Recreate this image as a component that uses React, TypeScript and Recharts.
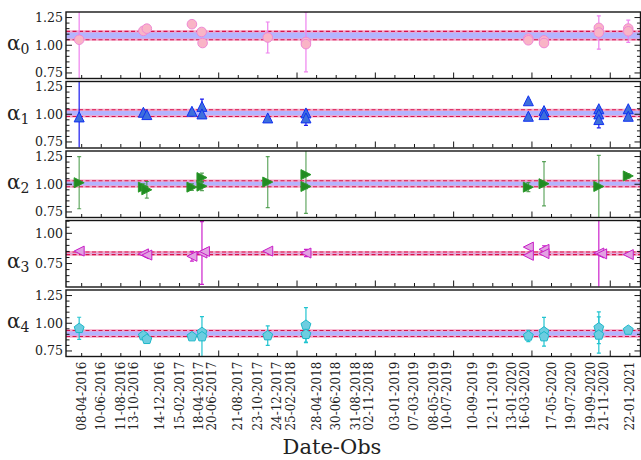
import React from "react";
import {
  ScatterChart,
  Scatter,
  XAxis,
  YAxis,
  ErrorBar,
  ReferenceArea,
  ReferenceLine,
} from "recharts";

// date tick labels, one every 62.5 days from 08-04-2016
const dateLabels = [
  "08-04-2016", "10-06-2016", "11-08-2016", "13-10-2016", "14-12-2016",
  "15-02-2017", "18-04-2017", "20-06-2017", "21-08-2017", "23-10-2017",
  "24-12-2017", "25-02-2018", "28-04-2018", "30-06-2018", "31-08-2018",
  "02-11-2018", "03-01-2019", "07-03-2019", "08-05-2019", "10-07-2019",
  "10-09-2019", "12-11-2019", "13-01-2020", "16-03-2020", "17-05-2020",
  "19-07-2020", "19-09-2020", "21-11-2020", "22-01-2021",
];
const dateTicks = dateLabels.map((_, k) => k * 62.5);

// observations: days after 08-04-2016, value, error
const a0Days = [-8, 197, 208, 352, 383, 386, 594, 716, 716, 1426, 1426, 1476, 1476, 1651, 1651, 1745, 1745];
const a0Vals = [1.05, 1.13, 1.15, 1.19, 1.12, 1.02, 1.07, 1.03, 1.01, 1.06, 1.045, 1.044, 1.02, 1.157, 1.115, 1.151, 1.126];
const a0Errs = [0.4, 0.01, 0.01, 0.01, 0.01, 0.01, 0.14, 0.27, 0.02, 0.01, 0.01, 0.01, 0.01, 0.02, 0.15, 0.02, 0.1];

const a1Days = [-8, 197, 208, 352, 384, 384, 594, 716, 716, 1426, 1426, 1476, 1476, 1651, 1651, 1651, 1745, 1745];
const a1Vals = [0.976, 1.018, 0.997, 1.027, 1.071, 1.003, 0.967, 1.012, 0.967, 1.122, 0.982, 1.033, 0.997, 1.05, 1.003, 0.952, 1.05, 0.982];
const a1Errs = [0.4, 0.01, 0.01, 0.01, 0.066, 0.01, 0.01, 0.01, 0.068, 0.01, 0.01, 0.015, 0.01, 0.01, 0.01, 0.074, 0.01, 0.01];

const a2Days = [-8, 197, 208, 352, 384, 384, 594, 716, 716, 1426, 1476, 1651, 1745];
const a2Vals = [1.014, 0.974, 0.95, 0.974, 1.06, 0.983, 1.02, 1.087, 0.98, 0.974, 1.005, 0.98, 1.075];
const a2Errs = [0.235, 0.03, 0.075, 0.03, 0.04, 0.04, 0.23, 0.35, 0.02, 0.04, 0.2, 0.28, 0.02];

const a3Days = [-8, 197, 208, 352, 384, 392, 594, 716, 1426, 1426, 1476, 1476, 1651, 1660, 1745];
const a3Vals = [0.853, 0.83, 0.82, 0.81, 0.837, 0.85, 0.853, 0.837, 0.886, 0.818, 0.867, 0.832, 0.837, 0.83, 0.824];
const a3Errs = [0.01, 0.01, 0.02, 0.04, 0.26, 0.01, 0.01, 0.03, 0.01, 0.01, 0.03, 0.01, 0.35, 0.02, 0.01];

const a4Days = [-8, 197, 208, 352, 384, 384, 594, 716, 716, 1426, 1476, 1476, 1651, 1651, 1745];
const a4Vals = [0.954, 0.888, 0.855, 0.879, 0.918, 0.879, 0.888, 0.983, 0.9, 0.885, 0.923, 0.879, 0.959, 0.894, 0.938];
const a4Errs = [0.1, 0.01, 0.02, 0.01, 0.01, 0.18, 0.088, 0.158, 0.07, 0.05, 0.13, 0.01, 0.143, 0.164, 0.01];

// weighted-mean band of each coefficient
const bandLow = [1.05, 0.98, 0.978, 0.824, 0.88];
const bandHigh = [1.125, 1.04, 1.032, 0.845, 0.935];

const toRows = (days: number[], vals: number[], errs: number[]) =>
  days.map((x, i) => ({ x, y: vals[i], err: errs[i] }));

const W = 641;
const PLOT_L = 66;
const PLOT_R = 640.5;
const PANEL_H = 66.5;
const STEP = 69.5;
const TOP0 = 12;
const PAD = 6; // room so the edge tick labels are not clipped
const X_DOMAIN: [number, number] = [-50, 1784];
const FONT = "DejaVu Serif";
const INK = "#151515";
const THIN = 0.01; // axes that only carry inward ticks

const range = (lo: number, hi: number) => {
  const out: number[] = [];
  for (let v = Math.round(lo * 100); v <= Math.round(hi * 100); v += 5) out.push(v / 100);
  return out;
};

const panels = [
  { rows: toRows(a0Days, a0Vals, a0Errs), domain: [0.7, 1.3], ticks: range(0.75, 1.25), kind: "circle", fill: "#f9b4c6", stroke: "#ee88d4", err: "#ee82ee", errOp: 1, labelDy: 0 },
  { rows: toRows(a1Days, a1Vals, a1Errs), domain: [0.7, 1.3], ticks: range(0.75, 1.25), kind: "up", fill: "#3d6fdc", stroke: "#1030f0", err: "#1a1aee", errOp: 1, labelDy: 0 },
  { rows: toRows(a2Days, a2Vals, a2Errs), domain: [0.7, 1.3], ticks: range(0.75, 1.25), kind: "right", fill: "#228b22", stroke: "#2a9a2a", err: "#2e8b2e", errOp: 0.75, labelDy: 0 },
  { rows: toRows(a3Days, a3Vals, a3Errs), domain: [0.56, 1.11], ticks: range(0.6, 1.1), kind: "left", fill: "#e2a2e2", stroke: "#c81ec8", err: "#cc22cc", errOp: 1, labelDy: 9 },
  { rows: toRows(a4Days, a4Vals, a4Errs), domain: [0.7, 1.3], ticks: range(0.75, 1.25), kind: "pent", fill: "#6dcde0", stroke: "#1cb8c8", err: "#22c4d0", errOp: 1, labelDy: 0 },
];

// error bars and markers are clipped to each panel's frame
const clipCss = panels
  .map(
    (_, i) =>
      `.panel-${i} .recharts-scatter, .panel-${i} .recharts-errorBars, .panel-${i} .recharts-errorBar { clip-path: url(#pclip-${i}); }`
  )
  .join("\n");

function markerPath(kind: string, cx: number, cy: number) {
  const s = 5;
  if (kind === "up") return `M${cx},${cy - s}L${cx + s},${cy + s}L${cx - s},${cy + s}Z`;
  if (kind === "right") return `M${cx + s},${cy}L${cx - s},${cy - s}L${cx - s},${cy + s}Z`;
  if (kind === "left") return `M${cx - s},${cy}L${cx + s},${cy - s}L${cx + s},${cy + s}Z`;
  let d = "";
  for (let k = 0; k < 5; k++) {
    const a = ((-90 + 72 * k) * Math.PI) / 180;
    d += `${k ? "L" : "M"}${cx + 5.2 * Math.cos(a)},${cy + 5.2 * Math.sin(a)}`;
  }
  return d + "Z";
}

function XTick(props: any) {
  const { x, y, payload, label, dir } = props;
  const k = Math.round(payload.value / 62.5);
  const major = k % 4 === 3;
  const len = major ? 6 : 3.5;
  return (
    <g>
      <line x1={x} x2={x} y1={y} y2={y - dir * len} stroke={INK} strokeWidth={1} />
      {label && (
        <text
          transform={`translate(${x + (major ? -6.5 : 0)},${y + 5}) rotate(-90)`}
          textAnchor="end"
          dominantBaseline="central"
          fontSize={12}
          fontFamily={FONT}
          fill="#222"
        >
          {dateLabels[k]}
        </text>
      )}
    </g>
  );
}

function YTick(props: any) {
  const { x, y, payload, side } = props;
  const v = payload.value;
  const major = Math.abs(v * 4 - Math.round(v * 4)) < 1e-6;
  const len = major ? 6 : 3.5;
  const dir = side === "left" ? 1 : -1;
  return (
    <g>
      <line x1={x} x2={x + dir * len} y1={y} y2={y} stroke={INK} strokeWidth={1} />
      {side === "left" && major && (
        <text x={x - 3} y={y} textAnchor="end" dominantBaseline="central" fontSize={12.6} fontFamily={FONT} fill="#222">
          {v.toFixed(2)}
        </text>
      )}
    </g>
  );
}

function Panel({ i }: { i: number }) {
  const p = panels[i];
  const isBottom = i === 4;
  const axisH = isBottom ? 100 : THIN;
  const h = PAD + THIN + PANEL_H + axisH + (isBottom ? 0 : PAD);
  return (
    <div className={`panel-${i}`} style={{ position: "absolute", left: 0, top: TOP0 + i * STEP - THIN - PAD }}>
      <ScatterChart
        width={W}
        height={h}
        margin={{ top: PAD, right: W - PLOT_R - THIN, bottom: isBottom ? 0 : PAD, left: 0 }}
      >
        <XAxis
          xAxisId="b"
          type="number"
          dataKey="x"
          domain={X_DOMAIN}
          allowDataOverflow
          ticks={dateTicks}
          interval={0}
          height={axisH}
          tickSize={0}
          tickMargin={0}
          axisLine={false}
          tickLine={false}
          tick={(t: any) => <XTick {...t} label={isBottom} dir={1} />}
        />
        <XAxis
          xAxisId="t"
          orientation="top"
          type="number"
          domain={X_DOMAIN}
          allowDataOverflow
          ticks={dateTicks}
          interval={0}
          height={THIN}
          tickSize={0}
          tickMargin={0}
          axisLine={false}
          tickLine={false}
          tick={(t: any) => <XTick {...t} label={false} dir={-1} />}
        />
        <YAxis
          yAxisId="l"
          type="number"
          dataKey="y"
          domain={p.domain}
          allowDataOverflow
          ticks={p.ticks}
          interval={0}
          width={PLOT_L}
          tickSize={0}
          tickMargin={0}
          axisLine={false}
          tickLine={false}
          tick={(t: any) => <YTick {...t} side="left" />}
        />
        <YAxis
          yAxisId="r"
          orientation="right"
          type="number"
          domain={p.domain}
          allowDataOverflow
          ticks={p.ticks}
          interval={0}
          width={THIN}
          tickSize={0}
          tickMargin={0}
          axisLine={false}
          tickLine={false}
          tick={(t: any) => <YTick {...t} side="right" />}
        />
        <ReferenceArea xAxisId="b" yAxisId="l" y1={bandLow[i]} y2={bandHigh[i]} fill="#b4b4ff" fillOpacity={1} stroke="none" />
        {[bandLow[i], bandHigh[i]].map((v) => (
          <ReferenceLine key={"p" + v} xAxisId="b" yAxisId="l" y={v} stroke="#f4a8c8" strokeWidth={2.2} />
        ))}
        {[bandLow[i], bandHigh[i]].map((v) => (
          <ReferenceLine key={"r" + v} xAxisId="b" yAxisId="l" y={v} stroke="#d8124c" strokeWidth={1.1} strokeDasharray="4 2.5" />
        ))}
        <Scatter
          xAxisId="b"
          yAxisId="l"
          data={p.rows}
          isAnimationActive={false}
          shape={(s: any) =>
            p.kind === "circle" ? (
              <circle cx={s.cx} cy={s.cy} r={4.8} fill={p.fill} stroke={p.stroke} strokeWidth={1} />
            ) : (
              <path d={markerPath(p.kind, s.cx, s.cy)} fill={p.fill} stroke={p.stroke} strokeWidth={1} />
            )
          }
        >
          <ErrorBar dataKey="err" direction="y" width={2} stroke={p.err} strokeOpacity={p.errOp} strokeWidth={1.2} />
        </Scatter>
      </ScatterChart>
    </div>
  );
}

export default function App() {
  return (
    <div style={{ position: "absolute", left: 0, top: 0, width: W, height: 460, background: "#fff", overflow: "hidden" }}>
      <style>{clipCss}</style>
      {panels.map((_, i) => (
        <Panel key={i} i={i} />
      ))}
      <svg width={W} height={460} style={{ position: "absolute", left: 0, top: 0, pointerEvents: "none" }}>
        <defs>
          {panels.map((_, i) => (
            <clipPath key={i} id={`pclip-${i}`} clipPathUnits="userSpaceOnUse">
              <rect x={PLOT_L} y={PAD + THIN} width={PLOT_R - PLOT_L} height={PANEL_H} />
            </clipPath>
          ))}
        </defs>
        {panels.map((p, i) => {
          const top = TOP0 + i * STEP;
          const cy = top + PANEL_H / 2 + p.labelDy;
          return (
            <g key={i}>
              <rect x={PLOT_L} y={top} width={PLOT_R - PLOT_L} height={PANEL_H} fill="none" stroke={INK} strokeWidth={1.4} />
              <text x={7} y={cy + 5} fontFamily={FONT} fontSize={20} fill="#222">
                α
                <tspan fontSize={14} dy={4}>
                  {i}
                </tspan>
              </text>
            </g>
          );
        })}
        <text x={332} y={454} textAnchor="middle" fontFamily={FONT} fontSize={21} fill="#222">
          Date-Obs
        </text>
      </svg>
    </div>
  );
}
